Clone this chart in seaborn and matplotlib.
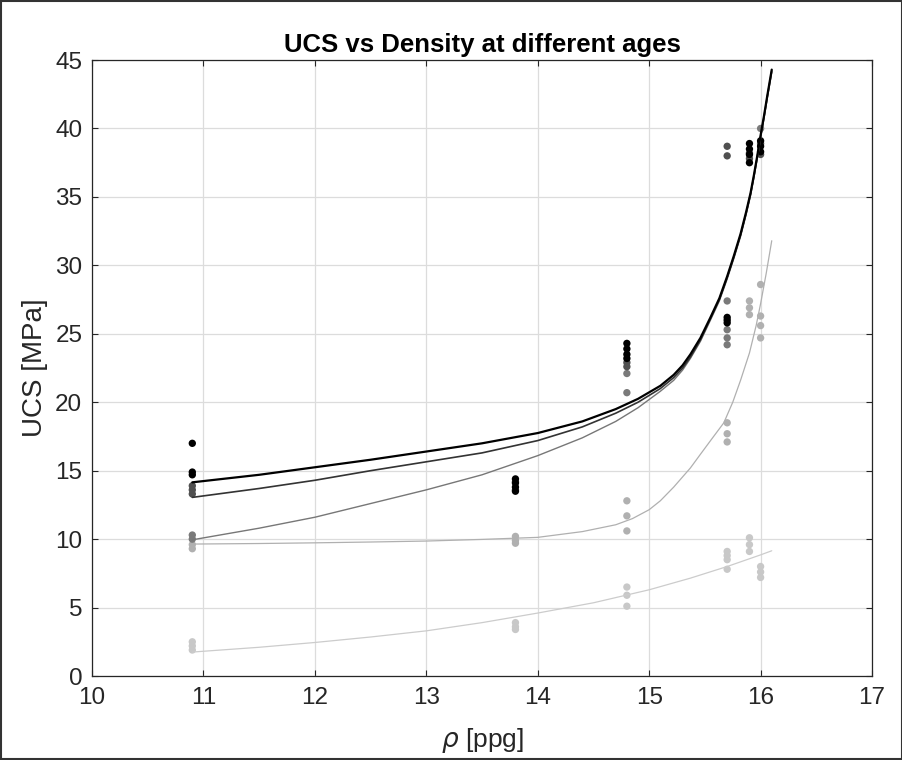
import numpy as np
import pandas as pd
import matplotlib
matplotlib.use("Agg")
import matplotlib.pyplot as plt
import seaborn as sns
from matplotlib.patches import Rectangle

# ---------------- data ----------------
ages = ["A", "B", "C", "D", "E"]
point_colors = ["#000000", "#505050", "#7a7a7a", "#b0b0b0", "#c8c8c8"]
line_colors = ["#000000", "#333333", "#777777", "#b0b0b0", "#cccccc"]
line_widths = [1.6, 1.2, 1.0, 0.9, 0.9]

# measured points: density (ppg) and UCS (MPa) per series
rho_A = [10.9, 10.9, 10.9, 13.8, 13.8, 13.8, 13.8, 14.8, 14.8, 14.8, 14.8,
         15.7, 15.7, 15.7, 15.9, 15.9, 15.9, 15.9, 16.0, 16.0, 16.0]
ucs_A = [17.0, 14.9, 14.7, 14.4, 14.1, 13.8, 13.5, 24.3, 23.9, 23.5, 23.2,
         26.2, 26.0, 25.8, 38.9, 38.5, 38.1, 37.5, 39.1, 38.7, 38.3]
rho_B = [10.9, 10.9, 10.9, 13.8, 13.8, 14.8, 14.8, 15.7, 15.7, 15.9, 15.9, 16.0, 16.0]
ucs_B = [13.9, 13.6, 13.3, 14.2, 13.6, 22.9, 22.6, 38.7, 38.0, 38.2, 37.8, 38.9, 38.1]
rho_C = [10.9, 10.9, 14.8, 14.8, 15.7, 15.7, 15.7, 15.7, 16.0]
ucs_C = [10.3, 10.0, 22.1, 20.7, 27.4, 25.3, 24.7, 24.2, 40.0]
rho_D = [10.9, 10.9, 13.8, 13.8, 13.8, 14.8, 14.8, 14.8, 15.7, 15.7, 15.7,
         15.9, 15.9, 15.9, 16.0, 16.0, 16.0, 16.0]
ucs_D = [9.6, 9.3, 10.2, 9.9, 9.7, 12.8, 11.7, 10.6, 18.5, 17.7, 17.1,
         27.4, 26.9, 26.4, 28.6, 26.3, 25.6, 24.7]
rho_E = [10.9, 10.9, 10.9, 13.8, 13.8, 13.8, 14.8, 14.8, 14.8, 15.7, 15.7, 15.7, 15.7,
         15.9, 15.9, 15.9, 16.0, 16.0, 16.0]
ucs_E = [2.5, 2.2, 1.9, 3.9, 3.6, 3.4, 6.5, 5.9, 5.1, 9.1, 8.8, 8.5, 7.8,
         10.1, 9.6, 9.1, 8.0, 7.6, 7.2]

# fitted curves, points
crho_A = [10.9, 11.5, 12.0, 12.5, 13.0, 13.5, 14.0, 14.4, 14.7, 14.9, 15.1, 15.22, 15.30,
          15.37, 15.46, 15.55, 15.63, 15.70, 15.76, 15.82, 15.87, 15.91, 15.94, 15.97,
          16.00, 16.03, 16.06, 16.10]
cucs_A = [14.15, 14.7, 15.25, 15.8, 16.4, 17.0, 17.75, 18.6, 19.5, 20.25, 21.2, 22.0, 22.7,
          23.5, 24.7, 26.2, 27.6, 29.2, 30.7, 32.3, 33.9, 35.3, 36.6, 38.0,
          39.5, 40.9, 42.4, 44.3]
crho_B = [10.9, 11.5, 12.0, 12.5, 13.0, 13.5, 14.0, 14.4, 14.7, 14.9, 15.1, 15.22, 15.30,
          15.37, 15.46, 15.55, 15.63, 15.70, 15.76, 15.82, 15.87, 15.91, 15.94, 15.97,
          16.00, 16.03, 16.06, 16.10]
cucs_B = [13.05, 13.7, 14.3, 15.0, 15.65, 16.3, 17.2, 18.2, 19.2, 20.0, 21.0, 21.8, 22.5,
          23.3, 24.55, 26.1, 27.5, 29.1, 30.6, 32.2, 33.8, 35.2, 36.5, 37.9,
          39.4, 40.8, 42.3, 44.2]
crho_C = [10.9, 11.5, 12.0, 12.5, 13.0, 13.5, 14.0, 14.4, 14.7, 14.9, 15.1, 15.22, 15.30,
          15.37, 15.46, 15.55, 15.63, 15.70, 15.76, 15.82, 15.87, 15.91, 15.94, 15.97,
          16.00, 16.03, 16.06, 16.10]
cucs_C = [9.95, 10.8, 11.6, 12.6, 13.6, 14.7, 16.1, 17.4, 18.6, 19.6, 20.8, 21.6, 22.35,
          23.2, 24.45, 26.0, 27.4, 29.0, 30.5, 32.1, 33.7, 35.1, 36.4, 37.8,
          39.3, 40.7, 42.2, 44.1]
crho_D = [10.9, 11.5, 12.0, 12.5, 13.0, 13.5, 14.0, 14.4, 14.7, 14.85, 15.0, 15.1, 15.22,
          15.37, 15.46, 15.56, 15.67, 15.75, 15.82, 15.90, 15.96, 16.00, 16.05, 16.10]
cucs_D = [9.64, 9.68, 9.73, 9.79, 9.86, 9.98, 10.13, 10.55, 11.05, 11.5, 12.15, 12.8, 13.8,
          15.2, 16.2, 17.3, 18.5, 20.0, 21.6, 23.6, 25.6, 27.2, 29.4, 31.8]
crho_E = [10.9, 11.5, 12.0, 12.5, 13.0, 13.5, 14.0, 14.5, 15.0, 15.37, 15.7, 16.0, 16.1]
cucs_E = [1.75, 2.1, 2.45, 2.85, 3.3, 3.9, 4.6, 5.35, 6.3, 7.15, 8.0, 8.85, 9.15]

x_ticks = [10, 11, 12, 13, 14, 15, 16, 17]
y_ticks = [0, 5, 10, 15, 20, 25, 30, 35, 40, 45]
title = "UCS vs Density at different ages"

# ---------------- tables ----------------
pts = pd.concat([
    pd.DataFrame({"rho": r, "ucs": u, "age": a})
    for r, u, a in zip([rho_A, rho_B, rho_C, rho_D, rho_E],
                       [ucs_A, ucs_B, ucs_C, ucs_D, ucs_E], ages)
], ignore_index=True)
curves = pd.concat([
    pd.DataFrame({"rho": r, "ucs": u, "age": a})
    for r, u, a in zip([crho_A, crho_B, crho_C, crho_D, crho_E],
                       [cucs_A, cucs_B, cucs_C, cucs_D, cucs_E], ages)
], ignore_index=True)

# ---------------- plot ----------------
sns.set_theme(style="white")
plt.rcParams["font.family"] = ["Liberation Sans", "DejaVu Sans"]
plt.rcParams["mathtext.fontset"] = "dejavusans"

fig = plt.figure(figsize=(9.03, 7.60), dpi=100)
fig.patch.set_facecolor("white")
ax = fig.add_axes([0.1019, 0.1105, 0.8638, 0.8105])

# draw order: lightest first so darker marks sit on top
for a, pc in reversed(list(zip(ages, point_colors))):
    sns.scatterplot(data=pts[pts["age"] == a], x="rho", y="ucs", color=pc,
                    s=28, edgecolor="none", linewidth=0, ax=ax, zorder=3, legend=False)
for a, lc, lw in reversed(list(zip(ages, line_colors, line_widths))):
    sns.lineplot(data=curves[curves["age"] == a], x="rho", y="ucs", color=lc,
                 linewidth=lw, estimator=None, sort=False, ax=ax, zorder=4, legend=False)

ax.set_xlim(10, 17)
ax.set_ylim(0, 45)
ax.set_xticks(x_ticks)
ax.set_yticks(y_ticks)
ax.set_xticklabels([str(t) for t in x_ticks])
ax.set_yticklabels([str(t) for t in y_ticks])
ax.grid(True, color="#dcdcdc", linewidth=0.9)
ax.set_axisbelow(True)
for sp in ax.spines.values():
    sp.set_visible(True)
    sp.set_color("#262626")
    sp.set_linewidth(0.9)
ax.tick_params(direction="in", length=4, width=0.8, color="#262626",
               top=True, right=True, bottom=True, left=True,
               labelsize=17.5, labelcolor="#262626")
ax.tick_params(axis="x", pad=8)
ax.tick_params(axis="y", pad=7)

ax.set_xlabel(r"$\rho$ [ppg]", fontsize=19, color="#262626", labelpad=12)
ax.set_ylabel("UCS [MPa]", fontsize=20, color="#262626", labelpad=5)
ax.set_title(title, fontsize=18.5, fontweight="bold", color="#000000", pad=6)

fig.patches.append(Rectangle((0.001, 0.001), 0.998, 0.998, transform=fig.transFigure,
                             fill=False, edgecolor="#333333", linewidth=1.5, zorder=10))

fig.savefig("out.png", dpi=100, facecolor="white")
